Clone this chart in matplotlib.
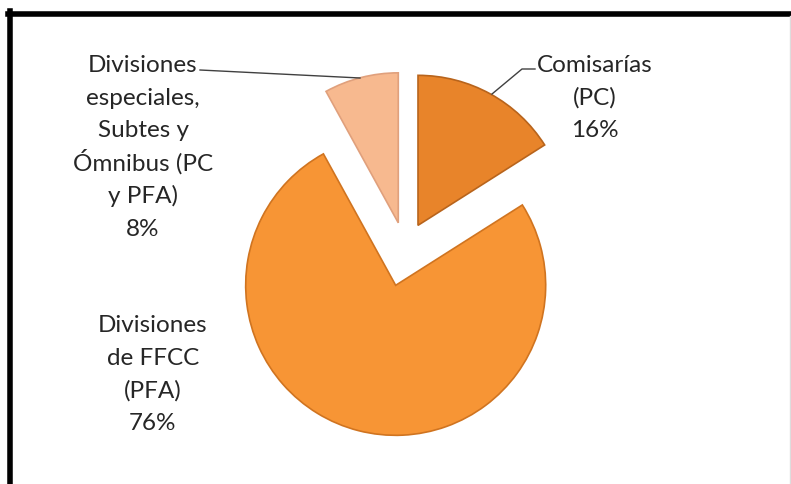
import matplotlib.pyplot as plt
from matplotlib.lines import Line2D

labels = ['Comisarías\n(PC)\n16%',
          'Divisiones\nde FFCC\n(PFA)\n76%',
          'Divisiones\nespeciales,\nSubtes y\nÓmnibus (PC\ny PFA)\n8%']
values = [16, 76, 8]
colors = ['#E8842A', '#F79535', '#F7B98F']
edges = ['#B8641C', '#D07420', '#E0A07C']
explode = [0.18, 0.25, 0.18]

W, H = 791, 485
fig = plt.figure(figsize=(W / 100, H / 100), dpi=100)
ax = fig.add_axes([0, 0, 1, 1])

# pie centre in pixels and radius in pixels (radius = 1 data unit)
cx, cy, r = 405, 250, 150

wedges, _ = ax.pie(values, explode=explode, colors=colors, startangle=90,
                   counterclock=False, radius=1,
                   wedgeprops=dict(linewidth=1.2))
for w, ec in zip(wedges, edges):
    w.set_edgecolor(ec)

ax.set_xlim(-cx / r, (W - cx) / r)
ax.set_ylim(-(H - cy) / r, cy / r)
ax.set_aspect('equal')
ax.axis('off')


def fx(x):
    return x / W


def fy(y):
    return 1 - y / H


# label blocks: centre x and first baseline in pixels, drawn line by line
# so that the spacing stays even
txt = dict(family=['Lato', 'DejaVu Sans'], fontsize=17.5, color='#262626',
           ha='center', va='baseline')
step = 32.7
for lab, (x0, y0) in zip(labels, [(595, 72), (153, 332), (143, 72)]):
    for i, line in enumerate(lab.split('\n')):
        fig.text(fx(x0), fy(y0 + i * step), line, **txt)

# leader lines
fig.add_artist(Line2D([fx(200), fx(360)], [fy(71), fy(79)], color='#404040', lw=1))
fig.add_artist(Line2D([fx(535), fx(522), fx(492)], [fy(70), fy(70), fy(95)],
                      color='#404040', lw=1))

# black frame (left and top), faint right edge
fig.add_artist(Line2D([fx(9.5), fx(9.5)], [fy(12), fy(H)], color='black', lw=4))
fig.add_artist(Line2D([fx(7.5), fx(W)], [fy(14.5), fy(14.5)], color='black', lw=4))
fig.add_artist(Line2D([fx(789.5), fx(789.5)], [fy(17), fy(H)], color='#dddddd', lw=1))

fig.savefig('out.png', dpi=100)
